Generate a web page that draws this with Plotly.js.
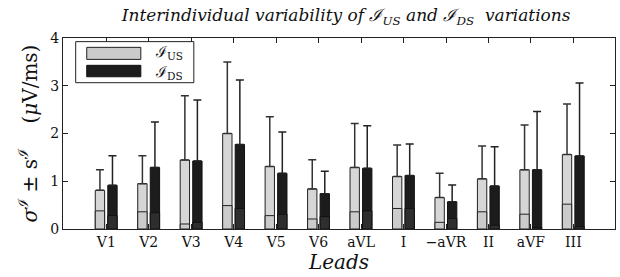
<!DOCTYPE html>
<html>
<head>
<meta charset="utf-8">
<script src="https://cdn.plot.ly/plotly-3.0.1.min.js"></script>
<style>html,body{margin:0;padding:0;background:#fff;}#chart{width:620px;height:277px;}</style>
</head>
<body>
<div id="chart"></div>
<script>
// Leads (categories)
const leads = ["V1","V2","V3","V4","V5","V6","aVL","I","\u2212aVR","II","aVF","III"];
// I_US: mean sigma, std s, lower inner segment
const usMean  = [0.81, 0.95, 1.445, 2.00, 1.31, 0.84, 1.29, 1.10, 0.66, 1.05, 1.24, 1.56];
const usStd   = [0.43, 0.585, 1.345, 1.50, 1.04, 0.61, 0.92, 0.66, 0.51, 0.69, 0.94, 1.06];
const usLower = [0.38, 0.36, 0.105, 0.49, 0.28, 0.21, 0.36, 0.43, 0.14, 0.36, 0.31, 0.52];
// I_DS
const dsMean  = [0.915, 1.29, 1.424, 1.77, 1.165, 0.74, 1.27, 1.12, 0.57, 0.90, 1.24, 1.53];
const dsStd   = [0.62, 0.95, 1.28, 1.35, 0.865, 0.47, 0.89, 0.66, 0.35, 0.82, 1.22, 1.53];
const dsLower = [0.28, 0.34, 0.14, 0.43, 0.31, 0.26, 0.38, 0.43, 0.22, 0.08, 0.03, 0.05];

const serif = "DejaVu Serif, serif";
const zeros = leads.map(() => 0);
const W = 0.22;

const traces = [
  {type:"bar", x:leads, y:usMean, width:W, offset:-0.26,
   marker:{color:"#d6d6d6", line:{color:"#222", width:1}},
   error_y:{type:"data", symmetric:false, array:usStd, arrayminus:zeros, color:"#333", thickness:1.5, width:4},
   showlegend:false, hoverinfo:"skip"},
  {type:"bar", x:leads, y:usLower, width:W, offset:-0.26,
   marker:{color:"#cbcbcb", line:{color:"#222", width:1}}, showlegend:false, hoverinfo:"skip"},
  {type:"bar", x:leads, y:dsMean, width:W, offset:0.035,
   marker:{color:"#1c1c1c", line:{color:"#111", width:1}},
   error_y:{type:"data", symmetric:false, array:dsStd, arrayminus:zeros, color:"#222", thickness:1.5, width:4},
   showlegend:false, hoverinfo:"skip"},
  {type:"bar", x:leads, y:dsLower, width:W, offset:0.035,
   marker:{color:"#2e2e2e", line:{color:"#111", width:1}}, showlegend:false, hoverinfo:"skip"}
];

const layout = {
  width:620, height:277,
  margin:{l:63, r:5, t:38, b:48},
  paper_bgcolor:"#fff", plot_bgcolor:"#fff",
  barmode:"overlay",
  title:{text:"Interindividual variability of \u2110<sub>US</sub> and \u2110<sub>DS</sub>  variations",
         font:{family:serif, size:17, style:"italic", color:"#111"},
         x:0.513, xanchor:"center", y:0.945, yanchor:"middle", xref:"paper"},
  xaxis:{type:"category", range:[-1.02, 11.98], showgrid:false, zeroline:false,
         showline:true, linecolor:"#222", linewidth:1, mirror:"ticks",
         ticks:"inside", ticklen:5, tickcolor:"#222",
         tickfont:{family:serif, size:14, color:"#111"},
         title:{text:"Leads", font:{family:serif, size:20, style:"italic", color:"#111"}, standoff:3}},
  yaxis:{range:[0,4], dtick:1, showgrid:false, zeroline:false,
         showline:true, linecolor:"#222", linewidth:1, mirror:"ticks",
         ticks:"inside", ticklen:5, tickcolor:"#222",
         tickfont:{family:serif, size:14, color:"#111"},
         title:{text:"<i>\u03c3</i><sup>\u2110</sup> \u00b1 s<sup>\u2110</sup> \u00a0\u00a0 (<i>\u03bc</i>V/ms)",
                font:{family:serif, size:20, color:"#111"}, standoff:7}},
  shapes:[
    {type:"rect", xref:"paper", yref:"paper", x0:0.023, x1:0.237, y0:0.766, y1:0.981,
     line:{color:"#222", width:1}, fillcolor:"#fff"},
    {type:"rect", xref:"paper", yref:"paper", x0:0.043, x1:0.141, y0:0.888, y1:0.951,
     line:{color:"#222", width:1}, fillcolor:"#cbcbcb"},
    {type:"rect", xref:"paper", yref:"paper", x0:0.043, x1:0.141, y0:0.797, y1:0.857,
     line:{color:"#111", width:1}, fillcolor:"#1c1c1c"}
  ],
  annotations:[
    {xref:"paper", yref:"paper", x:0.163, y:0.922, xanchor:"left", yanchor:"middle", showarrow:false,
     text:"\u2110<sub>US</sub>", font:{family:serif, size:15, color:"#111"}},
    {xref:"paper", yref:"paper", x:0.163, y:0.82, xanchor:"left", yanchor:"middle", showarrow:false,
     text:"\u2110<sub>DS</sub>", font:{family:serif, size:15, color:"#111"}}
  ]
};

Plotly.newPlot("chart", traces, layout, {displayModeBar:false, staticPlot:true});
</script>
</body>
</html>
